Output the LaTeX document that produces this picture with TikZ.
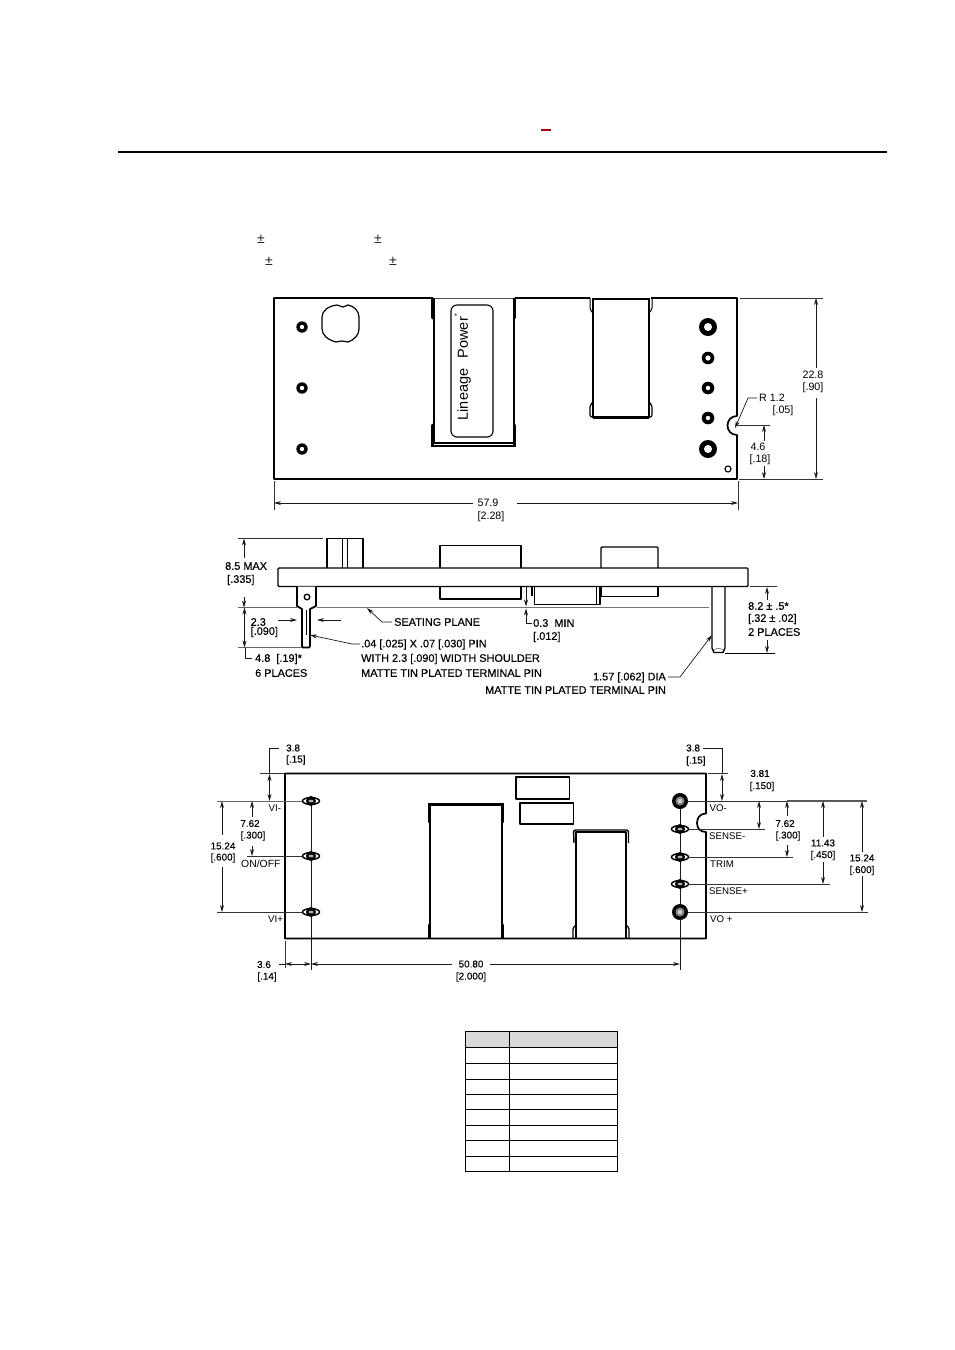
\documentclass[tikz,border=0pt]{standalone}
\usepackage{fontspec}
\setmainfont{Liberation Sans}
\newfontfamily\fakeb{Liberation Sans}[FakeBold=0.35]
\usetikzlibrary{arrows.meta}
\newcommand{\myhole}[4]{\fill[black] (#1,#2) circle[radius=#3pt]; \fill[white] (#1,#2) circle[radius=#4pt];}
\newcommand{\mywing}[2]{\draw[line width=1.5pt,fill=white] (#1,#2) ellipse[x radius=8.5pt,y radius=3.4pt];
  \fill[black] (#1,#2) circle[radius=5pt]; \fill[white!70!black] (#1,#2) ellipse[x radius=2.6pt,y radius=1.3pt];}
\newcommand{\myring}[2]{\fill[black] (#1,#2) circle[radius=8pt]; \fill[white!50!black] (#1,#2) circle[radius=4.6pt]; \fill[white!80!black] (#1,#2) circle[radius=2.4pt];}
\tikzset{
  x=1pt,y=-1pt,
  >={Stealth[length=7pt,width=4pt]},
  dimc/.style={font=\fontsize{9.7}{10}\selectfont,inner sep=0pt,anchor=center},
  diml/.style={dimc,anchor=west},
  dimt/.style={font=\fontsize{10.7}{11}\selectfont,inner sep=0pt,anchor=center},
  dimtl/.style={dimt,anchor=west},
  boldl/.style={font=\fontsize{10.9}{11}\fakeb\selectfont,inner sep=0pt,anchor=west},
  boldbl/.style={font=\fontsize{9.9}{10}\fakeb\selectfont,inner sep=0pt,anchor=west},
  boldc/.style={font=\fontsize{9.9}{10}\fakeb\selectfont,inner sep=0pt,anchor=center},
  dimline/.style={line width=.7pt,black!90},
  extline/.style={line width=.65pt,black!80},
  outline/.style={line width=1.7pt,line join=round},
  heavy/.style={line width=2.8pt,line cap=round},
  part/.style={line width=1.2pt,line join=round},
  plain/.style={line width=1.4pt,line join=round},
  plusminus/.style={font=\fontsize{14}{14}\selectfont,inner sep=0pt,text=black!85},
}
\begin{document}
\begin{tikzpicture}
\useasboundingbox (0,0) rectangle (954,1350);
\fill[white] (0,0) rectangle (954,1350);
% header
\draw[line width=2pt] (118,152) -- (887,152);
\draw[line width=1.8pt,color=red!65!black] (541,130.3) -- (551,130.3);
\node[plusminus] (pm1) at (261,239) {±};
\node[plusminus] (pm2) at (378,239) {±};
\node[plusminus] (pm3) at (269,261) {±};
\node[plusminus] (pm4) at (393,261) {±};

% ===== top view =====
\draw[outline] (433,298) -- (274,298) -- (274,479) -- (737,479) -- (737,435)
  .. controls (731,435) and (727.5,430.5) .. (727.5,425.5)
  .. controls (727.5,420.5) and (731,416) .. (737,416) -- (737,298) -- (651,298);
\draw[outline] (590,298) -- (515,298);
\draw[line width=.8pt,black!70] (433,298.5) -- (515,298.5);
\myhole{302}{327}{5.7}{2.2}
\myhole{302}{388}{5.7}{2.2}
\myhole{302}{449}{5.7}{2.2}
\myhole{708}{327}{9}{4}
\myhole{708}{358}{6.3}{2.6}
\myhole{708}{388}{6.3}{2.2}
\myhole{708}{418}{6.3}{2.2}
\myhole{708}{449}{9}{4}
\draw[line width=1.1pt] (728,469) circle[radius=3pt];
\draw[part] (337,305) -- (343,307) -- (348,305) .. controls (354,306) and (359,311) .. (359,317) -- (359,329)
  .. controls (359,335) and (354,340) .. (348,342) -- (342,341) -- (336,342)
  .. controls (328,340) and (322,335) .. (322,329) -- (322,317) .. controls (322,311) and (328,306) .. (337,305) -- cycle;
% transformer 1
\draw[line width=1.2pt] (434,298) -- (434,443) -- (514,443) -- (514,298);
\draw[heavy] (432.5,299) -- (432.5,318) (514.5,299) -- (514.5,318);
\draw[heavy] (432.5,425) -- (432.5,446) -- (514.5,446) -- (514.5,425);
\draw[line width=1.1pt,rounded corners=6pt] (451,305) rectangle (493,437);
\node[rotate=90,font=\fontsize{14.5}{15}\selectfont,inner sep=0pt,anchor=west] (logo) at (464,420.5) {Lineage\hspace{10.5pt}Power};
\node[rotate=90,font=\fontsize{7}{7}\selectfont,inner sep=0pt] (logo2) at (457,315.5) {*};
% transformer 2
\draw[line width=1.1pt] (593,299) -- (593,417) -- (649,417) -- (649,299) -- cycle;
\draw[line width=1pt,rounded corners=2pt] (590,298) -- (590,310) -- (593,313);
\draw[line width=1pt,rounded corners=2pt] (652,298) -- (652,310) -- (649,313);
\draw[part,line width=1.2pt,rounded corners=2pt] (593,402) -- (590,405) -- (590,417) -- (652,417) -- (652,405) -- (649,402);
\draw[line width=1.5pt] (593,418) -- (649,418);
% top-view dimensions
\draw[extline] (740,298) -- (823,298) (739,479) -- (823,479);
\draw[dimline,->] (816,368) -- (816,298);
\draw[dimline,->] (816,398) -- (816,479);
\node[dimt] (d228) at (813,375) {22.8};
\node[dimt] (d90) at (813,388) {[.90]};
\draw[dimline,->] (757,398) -- (748,398) -- (735,428);
\node[dimtl] (r12) at (759,397.5) {R 1.2};
\node[dimt] (r05) at (783,411) {[.05]};
\draw[extline] (737,425) -- (770,425);
\draw[dimline,->] (764,441) -- (764,425);
\draw[dimline,->] (764,466) -- (764,479);
\node[dimt] (d46) at (758,447) {4.6};
\node[dimt] (d18) at (760,460) {[.18]};
\draw[extline] (274,481) -- (274,510) (738,481) -- (738,510);
\draw[dimline,->] (473,503) -- (274,503);
\draw[dimline,->] (517,503) -- (738,503);
\node[dimt] (d579) at (488,503) {57.9};
\node[dimt] (d228b) at (491,516.5) {[2.28]};

% ===== side view =====
\draw[plain,rounded corners=1pt] (278,568) rectangle (748,586.5);
\draw[plain] (327,568) -- (327,538.5) -- (363,538.5) -- (363,568);
\draw[line width=1pt] (342,539) -- (342,568) (347,539) -- (347,568);
\draw[plain] (440,568) -- (440,545.5) -- (521,545.5) -- (521,568);
\draw[plain] (440,586.5) -- (440,599) -- (521,599) -- (521,586.5);
\draw[plain,rounded corners=1pt] (601,568) -- (601,547) -- (658,547) -- (658,568);
\draw[plain] (601,586.5) -- (601,596.5) -- (658,596.5) -- (658,586.5);
\draw[line width=2.4pt] (532,586.5) -- (532,596);
\draw[plain] (534.5,586.5) -- (534.5,604.5) -- (600,604.5) -- (600,586.5);
\draw[line width=.8pt] (596,586.5) -- (596,604.5);
\draw[line width=1.5pt,black!55] (317,607.5) -- (709,607.5);
% left pin
\draw[plain,line width=1.8pt,fill=white] (297,586.5) -- (297,606) -- (302,609) -- (302,646) -- (303,647.5) -- (309,647.5) -- (310,646) -- (310,609) -- (316,606) -- (316,586.5);
\draw[line width=1.3pt] (307,597) circle[radius=2.8pt];
\draw[line width=.8pt] (306,610) -- (306,635);
% right pin
\draw[plain] (712,586.5) -- (712,648) -- (714,652.5) -- (723,652.5) -- (725,648) -- (725,586.5);
\draw[line width=.6pt,black!60] (714,650) .. controls (715,648) and (722,648) .. (723,650);
% side-view dims
\draw[extline] (238,538.5) -- (323,538.5);
\draw[dimline,->] (244,558) -- (244,538.5);
\draw[dimline,->] (244,597) -- (244,607.5);
\draw[extline,black!60,line width=1pt] (238,607.5) -- (297,607.5) (238,647.5) -- (302,647.5);
\draw[dimline,<->] (244.5,607.5) -- (244.5,647.5);
\draw[dimline] (245,647.5) -- (245,658.5) -- (252,658.5);
\node[boldl] (d85) at (225,566) {8.5 MAX};
\node[boldl] (d335) at (227,580) {[.335]};
\node[boldl] (d23) at (250.5,622) {2.3};
\node[boldl] (d090) at (250.5,632) {[.090]};
\node[boldl] (d48) at (255,659) {4.8\ \ [.19]*};
\node[boldl] (d6p) at (255,673) {6 PLACES};
\draw[dimline,->] (278,620) -- (297,620);
\draw[dimline,->] (341,620) -- (317,620);
\draw[dimline,->] (392,622) -- (382,622) -- (367,608);
\node[boldl] (seat) at (394,622) {SEATING PLANE};
\draw[dimline,->] (360,644) -- (352,644) -- (310,635);
\node[boldl] (pin1) at (361,644.5) {.04 [.025] X .07 [.030] PIN};
\node[boldl] (pin2) at (361,659) {WITH 2.3 [.090] WIDTH SHOULDER};
\node[boldl] (pin3) at (361,673) {MATTE TIN PLATED TERMINAL PIN};
\draw[dimline,->] (526,587) -- (526,606.5);
\draw[dimline,->] (532,623) -- (526,623) -- (526,608.5);
\node[boldl] (d03) at (533,623) {0.3\ \ MIN};
\node[boldl] (d012) at (533,637) {[.012]};
\draw[extline] (750,586.5) -- (777,586.5);
\draw[line width=.8pt] (725,653) -- (775,653);
\draw[dimline,->] (767,600) -- (767,587);
\draw[dimline,->] (767,640) -- (767,653);
\node[boldl] (d82) at (748,606) {8.2 ± .5*};
\node[boldl] (d32) at (748,619) {[.32 ± .02]};
\node[boldl] (d2p) at (748,632) {2 PLACES};
\draw[dimline,->] (668,677) -- (680,677) -- (712,635);
\node[boldl,anchor=east] (d157) at (666,677.5) {1.57 [.062] DIA};
\node[boldl] (pin4) at (485,690) {MATTE TIN PLATED TERMINAL PIN};

% ===== bottom view =====
\draw[dimline] (311,801) -- (311,970) (680,801) -- (680,970);
\draw[outline] (285,773.5) -- (285,938.5) -- (706,938.5) -- (706,832)
  .. controls (700,832) and (697,828) .. (697,823)
  .. controls (697,818) and (700,813.5) .. (706,813.5) -- (706,773.5) -- cycle;
\draw[extline,black!60,line width=1pt] (217,801) -- (305,801);
\draw[extline] (247,856) -- (305,856) (217,912) -- (305,912);
\mywing{311}{801}\mywing{311}{856}\mywing{311}{912}
\draw[extline] (688,801) -- (787,801) (688,829) -- (765,829) (688,857) -- (793,857) (688,884) -- (830,884) (688,912) -- (868,912);
\draw[line width=1.2pt,black!65] (787,801) -- (867,801);
\myring{680}{801}\myring{680}{912}
\mywing{680}{829}\mywing{680}{857}\mywing{680}{884}
% components
\draw[part,line width=1.3pt] (430,938) -- (430,805) -- (502,805) -- (502,938);
\draw[heavy,line width=2.4pt] (429,822) -- (429,804) -- (503,804) -- (503,822);
\draw[heavy,line width=2.4pt] (429,925) -- (429,938) (503,925) -- (503,938);
\draw[part] (516,777) rectangle (569.5,799);
\draw[part] (520,803) rectangle (573.5,824);
\draw[part] (576,938) -- (576,832) -- (626,832) -- (626,938);
\draw[part,line width=1.4pt,rounded corners=2pt] (574,843) -- (573.5,830) -- (628.5,830) -- (628.5,843);
\draw[part,line width=1.2pt,rounded corners=1pt] (576,925) -- (573,928) -- (573,938);
\draw[part,line width=1.2pt,rounded corners=1pt] (626,925) -- (629,928) -- (629,938);
% bottom-view labels
\node[diml] (vim) at (268.5,808) {VI-};
\node[diml,font=\fontsize{10.4}{11}\selectfont] (onoff) at (241,863.5) {ON/OFF};
\node[diml] (vip) at (268,919) {VI+};
\node[diml] (vom) at (709.5,808) {VO-};
\node[diml] (sensem) at (709,836) {SENSE-};
\node[diml] (trim) at (710,864) {TRIM};
\node[diml] (sensep) at (709,891.5) {SENSE+};
\node[diml] (vop) at (710,919) {VO +};
% left dims
\draw[dimline] (279,748) -- (269.5,748) -- (269.5,774);
\draw[extline] (260,773.5) -- (284,773.5);
\draw[dimline,->] (269.5,790) -- (269.5,774);
\draw[dimline,->] (269.5,785) -- (269.5,801);
\node[boldbl] (l38) at (286,748) {3.8};
\node[boldbl] (l15) at (286,760) {[.15]};
\draw[dimline,->] (222,835) -- (222,801);
\draw[dimline,->] (222,867) -- (222,912);
\node[boldc] (l1524) at (223,846) {15.24};
\node[boldc] (l600) at (223,858) {[.600]};
\draw[dimline,->] (252,817) -- (252,801);
\draw[dimline,->] (252,846) -- (252,856);
\node[boldc] (l762) at (250,823.5) {7.62};
\node[boldc] (l300) at (253,836) {[.300]};
% bottom dims
\draw[extline] (285,941) -- (285,968);
\draw[dimline] (279,964) -- (285,964);
\draw[dimline,<->] (285,964) -- (311,964);
\draw[dimline,->] (452,964) -- (311,964);
\draw[dimline,->] (490,964) -- (680,964);
\node[boldc] (b36) at (264,964.5) {3.6};
\node[boldc] (b14) at (267,977) {[.14]};
\node[boldc] (b508) at (471,964) {50.80};
\node[boldc] (b2) at (471,977) {[2.000]};
% right dims
\node[boldbl] (r38) at (686,748) {3.8};
\node[boldbl] (r15) at (686,761) {[.15]};
\draw[dimline] (703,748) -- (722,748) -- (722,774);
\draw[extline] (708,773.5) -- (728,773.5);
\draw[dimline,->] (722,790) -- (722,774);
\draw[dimline,->] (722,785) -- (722,801);
\node[boldc] (r381) at (760,773.5) {3.81};
\node[boldc] (r150) at (762,786.5) {[.150]};
\draw[dimline,<->] (759,801) -- (759,829);
\draw[dimline,->] (787,816) -- (787,801);
\draw[dimline,->] (787,845) -- (787,857);
\node[boldc] (r762) at (785,823.5) {7.62};
\node[boldc] (r300) at (788,836) {[.300]};
\draw[dimline,->] (823,837) -- (823,801);
\draw[dimline,->] (823,862) -- (823,884);
\node[boldc] (r1143) at (823,843) {11.43};
\node[boldc] (r450) at (823,855.5) {[.450]};
\draw[dimline,->] (862,852) -- (862,801);
\draw[dimline,->] (862,876) -- (862,912);
\node[boldc] (r1524) at (862,858) {15.24};
\node[boldc] (r600) at (862,870.5) {[.600]};

% ===== table =====
\fill[black!15] (465.5,1031.5) rectangle (617,1047);
\draw[line width=1pt] (465.5,1031.5) rectangle (617,1171);
\draw[line width=1pt] (509,1031.5) -- (509,1171);
\foreach \yy in {1047,1063,1079,1094,1109,1125,1140,1156} \draw[line width=1pt] (465.5,\yy) -- (617,\yy);
\end{tikzpicture}
\end{document}
